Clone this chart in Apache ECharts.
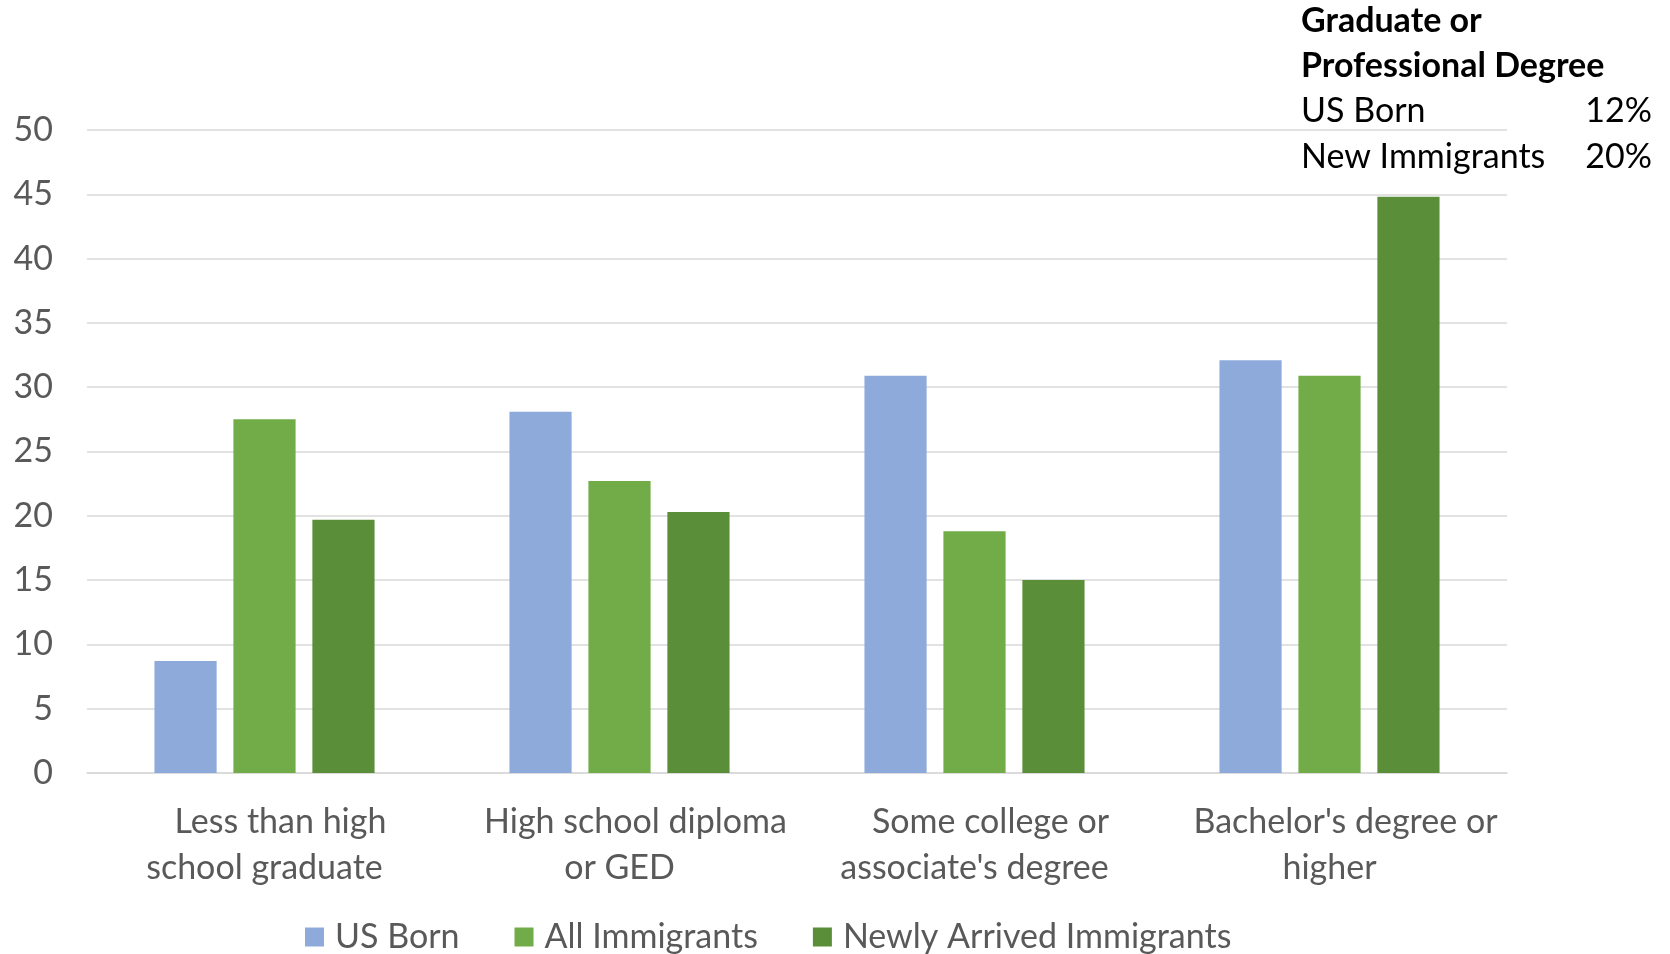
<!DOCTYPE html>
<html>
<head>
<meta charset="utf-8">
<script src="https://cdn.jsdelivr.net/npm/echarts@6/dist/echarts.min.js"></script>
<style>
  html, body { margin: 0; padding: 0; background: #fff; }
  #chart { width: 1670px; height: 954px; }
</style>
</head>
<body>
<div id="chart"></div>
<script>
// Educational attainment (%) by nativity
const categories = [
  'Less than high\nschool graduate',
  'High school diploma\nor GED',
  'Some college or\nassociate\'s degree',
  'Bachelor\'s degree or\nhigher'
];
const usBorn = [8.7, 28.1, 30.9, 32.1];
const allImmigrants = [27.5, 22.7, 18.8, 30.9];
const newlyArrived = [19.7, 20.3, 15.0, 44.8];
const seriesNames = ['US Born', 'All Immigrants', 'Newly Arrived Immigrants'];
const colors = ['#8eaadb', '#71ac48', '#5b8e39'];

// Side note: graduate / professional degree shares
const noteTitle = ['Graduate or', 'Professional Degree'];
const noteRows = [['US Born', '12%'], ['New Immigrants', '20%']];

const FONT = 'Lato, "Open Sans", sans-serif';
const GREY = '#595959';
const FS = 34;

const chart = echarts.init(document.getElementById('chart'));

const noteGraphics = [];
const lineY = [24, 69, 114, 160];
noteTitle.forEach((t, i) => {
  noteGraphics.push({
    type: 'text', left: 1301, top: lineY[i] - 20,
    style: { text: t, font: 'bold ' + FS + 'px ' + FONT, fill: '#000' }
  });
});
noteRows.forEach((r, i) => {
  noteGraphics.push({
    type: 'text', left: 1301, top: lineY[i + 2] - 20,
    style: { text: r[0], font: FS + 'px ' + FONT, fill: '#000' }
  });
  noteGraphics.push({
    type: 'text', right: 18, top: lineY[i + 2] - 20,
    style: { text: r[1], font: FS + 'px ' + FONT, fill: '#000', align: 'right' }
  });
});

const data = [usBorn, allImmigrants, newlyArrived];

chart.setOption({
  animation: false,
  textStyle: { fontFamily: FONT },
  grid: { left: 87, right: 163, top: 130, bottom: 181, containLabel: false },
  legend: {
    left: 300, bottom: -5,
    itemWidth: 19, itemHeight: 19, itemGap: 55,
    icon: 'rect',
    textStyle: { color: GREY, fontSize: FS, fontFamily: FONT, padding: [0, 0, 0, 6] },
    data: seriesNames
  },
  xAxis: {
    type: 'category',
    data: categories,
    axisLine: { lineStyle: { color: '#d9d9d9', width: 1.5 } },
    axisTick: { show: false },
    axisLabel: {
      margin: 26,
      interval: 0,
      formatter: (v) => {
        const parts = v.split('\n');
        return '{first|' + parts[0] + '}\n{second|' + parts[1] + '}';
      },
      rich: {
        first: { fontSize: FS, color: GREY, fontFamily: FONT, lineHeight: 46, padding: [0, 0, 0, 32] },
        second: { fontSize: FS, color: GREY, fontFamily: FONT, lineHeight: 46 }
      }
    }
  },
  yAxis: {
    type: 'value',
    min: 0, max: 50, interval: 5,
    axisLine: { show: false },
    axisTick: { show: false },
    axisLabel: { color: GREY, fontSize: FS, fontFamily: FONT, margin: 34 },
    splitLine: { lineStyle: { color: '#d9d9d9', width: 1.5 } }
  },
  graphic: noteGraphics,
  series: seriesNames.map((name, i) => ({
    name: name,
    type: 'bar',
    data: data[i],
    barGap: '27%',
    barCategoryGap: '38%',
    itemStyle: { color: colors[i] }
  }))
});
</script>
</body>
</html>
